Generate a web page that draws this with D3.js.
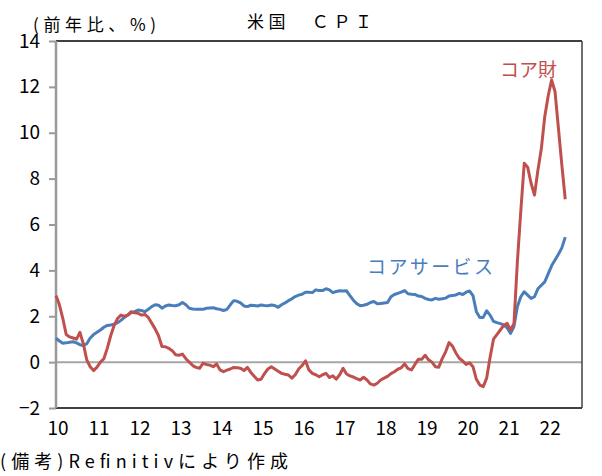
<!DOCTYPE html>
<html><head><meta charset="utf-8">
<script src="https://cdn.jsdelivr.net/npm/d3@7"></script>
<style>body{margin:0;background:#fff}svg{display:block}text{font-family:"Noto Sans CJK JP","Noto Sans",sans-serif}</style>
</head><body>
<svg id="c" width="602" height="476"></svg>
<script>
// Monthly, Jan 2010 – Jun 2022
const coreGoods = [
 2.9,2.5,1.9,1.2,1.1,1.05,1.0,1.3,0.8,0.1,-0.2,-0.37,
 -0.22,0.0,0.15,0.6,1.15,1.6,1.9,2.05,2.0,2.05,2.2,2.15,
 2.13,2.05,2.08,1.95,1.7,1.45,1.15,0.68,0.67,0.6,0.5,0.32,
 0.3,0.35,0.15,0.0,-0.15,-0.23,-0.27,-0.05,-0.1,-0.13,-0.2,-0.08,
 -0.34,-0.42,-0.35,-0.3,-0.23,-0.25,-0.27,-0.37,-0.23,-0.45,-0.62,-0.78,
 -0.75,-0.5,-0.3,-0.2,-0.3,-0.4,-0.49,-0.53,-0.56,-0.7,-0.55,-0.3,
 -0.15,0.06,-0.34,-0.49,-0.55,-0.64,-0.55,-0.49,-0.67,-0.6,-0.74,-0.55,
 -0.27,-0.52,-0.6,-0.65,-0.72,-0.78,-0.66,-0.78,-0.95,-1.0,-0.92,-0.78,
 -0.7,-0.62,-0.5,-0.42,-0.31,-0.25,-0.08,-0.28,-0.34,-0.1,0.12,0.12,
 0.3,0.1,0.0,-0.2,-0.22,0.15,0.45,0.85,0.7,0.4,0.17,0.05,
 -0.1,-0.03,-0.2,-0.75,-1.0,-1.07,-0.7,0.2,1.0,1.2,1.4,1.6,
 1.69,1.4,1.69,4.4,6.6,8.67,8.5,7.8,7.28,8.37,9.3,10.7,
 11.6,12.3,11.8,10.2,8.6,7.1
];
const coreServices = [
 1.04,0.92,0.82,0.84,0.87,0.89,0.84,0.76,0.72,0.8,1.05,1.2,
 1.3,1.4,1.52,1.6,1.62,1.65,1.72,1.82,1.95,2.05,2.15,2.2,
 2.27,2.25,2.2,2.3,2.42,2.5,2.48,2.35,2.45,2.49,2.47,2.46,
 2.5,2.6,2.5,2.35,2.32,2.3,2.3,2.3,2.35,2.36,2.37,2.33,
 2.3,2.25,2.3,2.5,2.68,2.65,2.58,2.45,2.42,2.48,2.47,2.45,
 2.49,2.47,2.46,2.49,2.47,2.39,2.5,2.58,2.68,2.76,2.86,2.92,
 2.96,3.05,3.05,3.03,3.15,3.12,3.12,3.2,3.15,3.03,3.08,3.11,
 3.1,3.11,2.9,2.7,2.55,2.46,2.48,2.52,2.6,2.64,2.54,2.56,
 2.58,2.6,2.85,2.95,3.0,3.05,3.12,2.98,2.96,2.95,2.88,2.86,
 2.78,2.73,2.71,2.78,2.74,2.76,2.79,2.88,2.9,2.93,3.0,2.95,
 3.05,3.1,2.9,2.2,1.95,1.95,2.24,2.05,1.78,1.72,1.68,1.62,
 1.5,1.25,1.55,2.42,2.85,3.07,2.92,2.78,2.85,3.2,3.35,3.5,
 3.85,4.2,4.45,4.7,4.98,5.45
];
const yearLabels = ["10","11","12","13","14","15","16","17","18","19","20","21","22"];
const yTicks = [-2,0,2,4,6,8,10,12,14];

const svg = d3.select("#c");
const L=56, R=582, T=41, B=408;
const x = d3.scaleLinear().domain([0,153.9]).range([L,R]);
const y = d3.scaleLinear().domain([-2,14]).range([B,T]);

// zero line
svg.append("line").attr("x1",L).attr("x2",R).attr("y1",y(0)).attr("y2",y(0))
  .attr("stroke","#a6a6a6").attr("stroke-width",2);
// borders
svg.append("line").attr("x1",L).attr("x2",R).attr("y1",T).attr("y2",T).attr("stroke","#000").attr("stroke-width",1.3);
svg.append("line").attr("x1",L).attr("x2",R).attr("y1",B).attr("y2",B).attr("stroke","#000").attr("stroke-width",1.5);
svg.append("line").attr("x1",R).attr("x2",R).attr("y1",T).attr("y2",B).attr("stroke","#404040").attr("stroke-width",1.5);

// y axis
const ya = svg.append("g").attr("transform",`translate(${L},0)`)
  .call(d3.axisLeft(y).tickValues(yTicks).tickSize(7).tickPadding(9).tickFormat(d3.format("d")));
ya.select(".domain").attr("stroke","#999").attr("stroke-width",2.5).attr("d",`M0,${T}V${B}`);
ya.selectAll(".tick line").attr("stroke","#999").attr("stroke-width",2);
ya.selectAll(".tick text").attr("font-size",19).attr("fill","#000");

// x axis labels
const xa = svg.append("g").attr("transform",`translate(1.5,${B})`)
  .call(d3.axisBottom(x).tickValues(yearLabels.map((d,i)=>i*12)).tickSize(0).tickPadding(14)
    .tickFormat((d,i)=>yearLabels[i]));
xa.select(".domain").remove();
xa.selectAll(".tick text").attr("font-size",19).attr("fill","#000");

// lines
const line = d3.line().x((d,i)=>x(i)).y(d=>y(d));
svg.append("path").datum(coreServices).attr("d",line).attr("fill","none")
  .attr("stroke","#4a7ebb").attr("stroke-width",3).attr("stroke-linejoin","round");
svg.append("path").datum(coreGoods).attr("d",line).attr("fill","none")
  .attr("stroke","#c0504d").attr("stroke-width",3).attr("stroke-linejoin","round");

// texts
svg.append("text").attr("x",247).attr("y",28).attr("font-size",17).attr("textLength",125)
  .attr("lengthAdjust","spacing").text("米国　ＣＰＩ");
svg.append("text").attr("x",33).attr("y",31).attr("font-size",17).attr("textLength",123)
  .attr("lengthAdjust","spacing").text("(前年比、%)");
svg.append("text").attr("x",500).attr("y",77).attr("font-size",19).attr("fill","#c0504d").text("コア財");
svg.append("text").attr("x",367).attr("y",274).attr("font-size",19).attr("fill","#4a7ebb")
  .attr("textLength",126).attr("lengthAdjust","spacing").text("コアサービス");
svg.append("text").attr("x",0).attr("y",468).attr("font-size",18).attr("textLength",288)
  .attr("lengthAdjust","spacing").text("(備考)Refinitivにより作成");
</script>
</body></html>
